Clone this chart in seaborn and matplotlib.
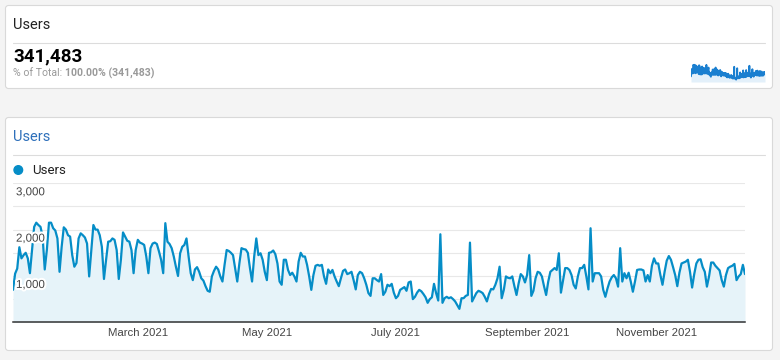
import numpy as np
import pandas as pd
import matplotlib
matplotlib.use("Agg")
import matplotlib.pyplot as plt
import seaborn as sns
from matplotlib.patches import FancyBboxPatch, Circle
import matplotlib.patheffects as pe

# ---------------- data (daily users, 2021) ----------------
users_jan = [700, 1050, 1160, 1620, 1380, 1450, 1500, 1380, 1060, 1560, 2060, 2150, 2100, 2060, 1850, 1140,
             1560, 2150, 2150, 2030, 1980, 1810, 1090, 1630, 2050, 2000, 1880, 1850, 1450, 1200, 1280]
users_feb = [1810, 1920, 1880, 1830, 1700, 990, 1560, 2100, 2000, 2000, 1880, 1630, 935, 1350, 1740, 1750,
             1810, 1780, 1560, 935, 1350, 1940, 1850, 1760, 1740, 1560, 1060, 1560]
users_mar = [1780, 1720, 1700, 1670, 1420, 1060, 1600, 1700, 1720, 1690, 1530, 1350, 1060, 2140, 1740, 1690,
             1600, 1420, 1200, 1000, 1490, 1630, 1670, 1810, 1420, 1060, 910, 1140, 1190, 1090, 950]
users_apr = [900, 780, 680, 660, 990, 1110, 1200, 1140, 990, 880, 1240, 1560, 1540, 1500, 1450, 1170,
             880, 1270, 1600, 1580, 1570, 1500, 1170, 880, 1420, 1810, 1450, 1490, 1350, 1090]
users_may = [910, 1500, 1510, 1550, 1470, 1270, 880, 810, 1350, 1350, 1130, 1020, 1070, 990, 880, 1310,
             1500, 1420, 1420, 1240, 990, 700, 1020, 1220, 1240, 1220, 1240, 990, 830, 1140, 1060]
users_jun = [1130, 990, 880, 780, 950, 1110, 1140, 1040, 1060, 1090, 910, 710, 1020, 1090, 1060, 950,
             810, 630, 570, 950, 950, 910, 880, 1040, 590, 660, 810, 780, 830, 640]
users_jul = [520, 570, 700, 730, 760, 680, 860, 880, 500, 550, 640, 700, 670, 610, 540, 420,
             500, 540, 830, 630, 470, 1900, 420, 520, 550, 520, 540, 500, 450, 370, 290]
users_aug = [520, 520, 570, 590, 1720, 450, 540, 630, 680, 660, 630, 550, 450, 610, 720, 710,
             810, 950, 1200, 520, 700, 990, 960, 950, 990, 780, 590, 840, 1040, 990, 860]
users_sep = [1020, 1450, 570, 680, 950, 1090, 1070, 990, 780, 590, 880, 1090, 1130, 1170, 1130, 1490,
             640, 910, 1170, 1170, 1130, 1020, 810, 730, 990, 1170, 1170, 1240, 990, 710]
users_oct = [2030, 880, 1060, 1060, 1060, 990, 700, 550, 730, 880, 970, 1020, 950, 770, 1600, 880,
             1060, 950, 1070, 880, 660, 880, 1130, 1140, 1140, 1120, 880, 1020, 880, 1220, 1380]
users_nov = [1270, 1270, 1020, 810, 1090, 1330, 1430, 1350, 1190, 1020, 780, 1070, 1270, 1290, 1310, 1350,
             1090, 750, 1040, 1270, 1350, 1360, 1190, 1090, 770, 990, 1290, 1290, 1220, 1170]
users_dec = [1120, 910, 770, 1020, 1170, 1200, 1220, 1260, 910, 990, 1040, 1240, 1040]

start_date = "2021-01-01"
metric_name = "Users"
total_label = "341,483"
pct_prefix = "% of Total: "
pct_value = "100.00% (341,483)"
y_grid = [0, 500, 1000, 1500, 2000, 2500, 3000]
y_labels = [1000, 2000, 3000]
x_tick_dates = ["2021-03-01", "2021-05-01", "2021-07-01", "2021-09-01", "2021-11-01"]
x_tick_labels = ["March 2021", "May 2021", "July 2021", "September 2021", "November 2021"]

users = (users_jan + users_feb + users_mar + users_apr + users_may + users_jun +
         users_jul + users_aug + users_sep + users_oct + users_nov + users_dec)
dates = pd.date_range(start_date, periods=len(users), freq="D")
df = pd.DataFrame({"date": dates, "users": users})

# ---------------- style ----------------
sns.set_theme(style="white")
plt.rcParams["font.family"] = ["Roboto", "DejaVu Sans"]

LINE = "#058dc7"
FILL = "#e6f3f9"
W, H = 780, 360

fig = plt.figure(figsize=(W / 100, H / 100), dpi=100)
fig.patch.set_facecolor("#f4f4f4")

bg = fig.add_axes([0, 0, 1, 1])
bg.set_xlim(0, W)
bg.set_ylim(H, 0)
bg.axis("off")
bg.patch.set_alpha(0)


def card(x0, y0, x1, y1):
    bg.add_patch(FancyBboxPatch((x0, y0), x1 - x0, y1 - y0,
                                boxstyle="round,pad=0,rounding_size=3",
                                fc="white", ec="#d9d9d9", lw=0.8))


card(5.5, 5.5, 772.5, 88.5)
card(5.5, 117.5, 772.5, 350.5)

# top card
bg.text(13, 25, metric_name, fontsize=10.5, color="#212121", va="center")
bg.plot([13, 765], [42.5, 42.5], color="#dcdcdc", lw=0.8)
bg.text(13, 56, total_label, fontsize=13.5, weight="bold", color="#000000", va="center")
t1 = bg.text(13, 73.5, pct_prefix, fontsize=7.6, color="#9a9a9a", va="center")
fig.canvas.draw()
bb = t1.get_window_extent(renderer=fig.canvas.get_renderer())
bg.text(13 + bb.width, 73.5, pct_value, fontsize=7.6, color="#9a9a9a", weight="bold", va="center")

# bottom card header
bg.text(13, 137, metric_name, fontsize=10.5, color="#2d6fba", va="center")
bg.plot([13, 765], [154.5, 154.5], color="#dcdcdc", lw=0.8)
bg.add_patch(Circle((18.3, 170), 4.3, color=LINE))
bg.text(32, 170, metric_name, fontsize=9.5, color="#212121", va="center")

# sparkline
sp = fig.add_axes([691 / W, (H - 82) / H, (765 - 691) / W, (82 - 62) / H])
sp.fill_between(df["date"], df["users"], color="#e3f0fa", lw=0)
sns.lineplot(data=df, x="date", y="users", ax=sp, color="#1a7fd0", lw=1.3)
sp.set_xlim(dates[0], dates[-1])
sp.set_ylim(0, 2500)
sp.axis("off")
sp.patch.set_alpha(0)

# main chart
ax = fig.add_axes([13 / W, (H - 322.3) / H, (745 - 13) / W, (322.3 - 183.3) / H])
ax.fill_between(df["date"], df["users"], color=FILL, lw=0, zorder=1)
sns.lineplot(data=df, x="date", y="users", ax=ax, color=LINE, lw=1.6, zorder=3)
ax.set_xlim(dates[0], dates[-1])
ax.set_ylim(0, 3000)
ax.set_yticks(y_grid)
ax.yaxis.grid(True, color="#e8e8e8", lw=0.8, zorder=0)
ax.set_axisbelow(True)
ax.tick_params(axis="y", length=0, labelleft=False)
ax.set_xticks(pd.to_datetime(x_tick_dates))
ax.set_xticklabels(x_tick_labels, fontsize=8.2, color="#444444",
                   fontfamily=["Liberation Sans", "DejaVu Sans"])
ax.tick_params(axis="x", length=0, pad=4)
ax.set_xlabel("")
ax.set_ylabel("")
for s in ["top", "left", "right"]:
    ax.spines[s].set_visible(False)
ax.spines["bottom"].set_color("#333333")
ax.spines["bottom"].set_linewidth(1.1)
ax.patch.set_alpha(0)

for v in y_labels:
    ax.annotate(f"{v:,}", xy=(dates[0], v), xytext=(3, -9), textcoords="offset pixels",
                fontsize=8.3, color="#444444", va="center", ha="left", zorder=5,
                fontfamily=["Liberation Sans", "DejaVu Sans"],
                path_effects=[pe.withStroke(linewidth=3, foreground="white")])

fig.savefig("out.png", dpi=100, facecolor=fig.get_facecolor())
